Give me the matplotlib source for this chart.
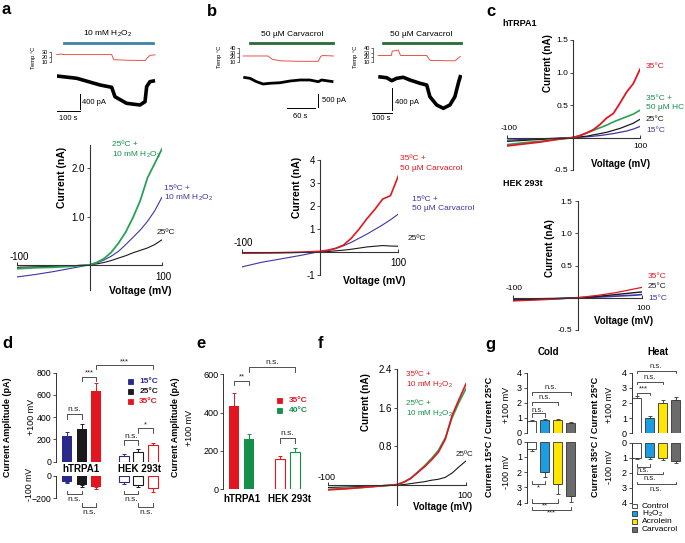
import matplotlib
matplotlib.use("Agg")
import matplotlib.pyplot as plt
from matplotlib.lines import Line2D
from matplotlib.patches import Rectangle

plt.rcParams["font.family"] = ["Liberation Sans", "DejaVu Sans"]
plt.rcParams["mathtext.fontset"] = "custom"
plt.rcParams["mathtext.rm"] = "Liberation Sans"
plt.rcParams["mathtext.it"] = "Liberation Sans:italic"
plt.rcParams["mathtext.bf"] = "Liberation Sans:bold"
plt.rcParams["axes.linewidth"] = 0.7

# ── Data ──────────────────────────────────────────────────────────────────────
# a: time course (s, pA relative to start) and bath temperature (°C)
a_t = [0, 86, 186, 236, 250, 300, 357, 379, 386, 400, 422]
a_i = [0, -61, -240, -302, -553, -729, -774, -686, -285, -152, -125]
a_temp_t = [0, 20, 25, 236, 245, 300, 380, 386, 400, 422]
a_temp = [24.5, 25.5, 24.5, 24.5, 15, 14, 13.5, 17, 23, 24]

# b left: 60 s recording
bl_t = [0, 14, 28, 42, 56, 78, 99, 120, 141, 159, 166, 191]
bl_i = [0, -37, -165, -251, -225, -203, -139, -101, -101, -165, -101, -165]
bl_temp_t = [0, 52, 62, 80, 120, 159, 164, 168, 191]
bl_temp = [23, 23, 16, 13, 12, 12, 22, 24, 23]

# b right
br_t = [0, 42, 67, 92, 125, 158, 208, 242, 258, 292, 325, 358, 383, 400, 412]
br_i = [0, -19, -74, -30, -11, -61, -122, -154, -370, -524, -585, -524, -370, -122, 31]
br_temp_t = [0, 65, 70, 100, 111, 242, 258, 383, 410]
br_temp = [24, 24, 33, 35, 24, 24, 14, 13, 22]

# I-V curves (mV, nA)
volt = [-100, -75, -50, -25, 0, 10, 20, 30, 40, 50, 60, 70, 80, 90, 100]

a_25_h2o2 = [-0.08, -0.06, -0.05, -0.03, 0, 0.05, 0.13, 0.26, 0.45, 0.68, 0.98, 1.33, 1.8, 2.1, 2.4]
a_15_h2o2 = [-0.25, -0.2, -0.14, -0.07, 0, 0.04, 0.1, 0.18, 0.28, 0.42, 0.57, 0.72, 0.9, 1.12, 1.4]
a_25 = [-0.05, -0.04, -0.03, -0.02, 0, 0.02, 0.05, 0.09, 0.14, 0.19, 0.25, 0.3, 0.35, 0.42, 0.52]

b_35_carv = [-0.05, -0.04, -0.03, -0.01, 0.03, 0.08, 0.16, 0.3, 0.6, 1.0, 1.45, 1.85, 2.3, 2.45, 3.3]
b_15_carv = [-0.65, -0.45, -0.3, -0.15, 0.02, 0.06, 0.15, 0.27, 0.42, 0.6, 0.78, 0.98, 1.18, 1.4, 1.65]
b_25 = [-0.05, -0.04, -0.03, -0.02, 0, 0.02, 0.05, 0.08, 0.12, 0.17, 0.22, 0.25, 0.28, 0.26, 0.25]

c_trpa1_35 = [-0.13, -0.1, -0.07, -0.03, 0, 0.03, 0.07, 0.12, 0.2, 0.3, 0.37, 0.53, 0.7, 0.83, 1.05]
c_trpa1_35hc = [-0.11, -0.08, -0.06, -0.03, 0, 0.03, 0.07, 0.11, 0.15, 0.19, 0.24, 0.28, 0.32, 0.36, 0.42]
c_trpa1_25 = [-0.06, -0.045, -0.03, -0.015, 0, 0.01, 0.02, 0.04, 0.06, 0.08, 0.11, 0.14, 0.18, 0.22, 0.28]
c_trpa1_15 = [-0.04, -0.03, -0.02, -0.01, 0, 0.005, 0.01, 0.02, 0.03, 0.045, 0.06, 0.08, 0.1, 0.13, 0.17]

c_hek_35 = [-0.05, -0.04, -0.03, -0.015, 0, 0.01, 0.025, 0.035, 0.05, 0.065, 0.08, 0.1, 0.12, 0.14, 0.16]
c_hek_25 = [-0.04, -0.03, -0.02, -0.01, 0, 0.005, 0.01, 0.02, 0.03, 0.04, 0.05, 0.06, 0.07, 0.08, 0.09]
c_hek_15 = [-0.03, -0.02, -0.015, -0.01, 0, 0.003, 0.007, 0.01, 0.015, 0.02, 0.025, 0.03, 0.035, 0.04, 0.05]

f_35_h2o2 = [-0.1, -0.08, -0.05, -0.02, 0.01, 0.06, 0.14, 0.26, 0.38, 0.52, 0.68, 0.95, 1.45, 1.78, 2.1]
f_25_h2o2 = [-0.09, -0.07, -0.05, -0.02, 0.01, 0.06, 0.14, 0.27, 0.4, 0.55, 0.72, 0.98, 1.4, 1.72, 2.0]
f_25 = [-0.05, -0.04, -0.03, -0.02, 0, 0.01, 0.03, 0.05, 0.07, 0.1, 0.12, 0.16, 0.25, 0.38, 0.5]

# d: current amplitude (pA) at +100 / -100 mV
d_temps = ["15°C", "25°C", "35°C"]
d_trpa1_pos = [230, 290, 635]
d_trpa1_pos_err = [35, 50, 70]
d_hek_pos = [55, 90, 148]
d_hek_pos_err = [13, 22, 20]
d_trpa1_neg = [-53, -82, -97]
d_trpa1_neg_err = [14, 15, 23]
d_hek_neg = [-53, -82, -112]
d_hek_neg_err = [20, 15, 30]

# e: current amplitude (pA) at +100 mV
e_temps = ["35°C", "40°C"]
e_trpa1 = [435, 260]
e_trpa1_err = [70, 27]
e_hek = [158, 193]
e_hek_err = [17, 25]

# g: current ratios
g_groups = ["Control", "H$_2$O$_2$", "Acrolein", "Carvacrol"]
g_cold_pos = [0.78, 0.85, 0.83, 0.65]
g_cold_pos_err = [0.1, 0.06, 0.06, 0.04]
g_cold_neg = [0.48, 2.0, 2.77, 3.54]
g_cold_neg_err = [0.11, 0.33, 0.68, 0.39]
g_heat_pos = [2.3, 1.02, 2.0, 2.22]
g_heat_pos_err = [0.13, 0.1, 0.18, 0.18]
g_heat_neg = [1.0, 0.98, 1.04, 1.22]
g_heat_neg_err = [0.09, 0.11, 0.11, 0.11]

# ── Style ────────────────────────────────────────────────────────────────────
RED = "#e3161f"
GREEN = "#2aa156"
GREEN_D = "#14904a"
BLUE = "#3d35a8"
BLUE_D = "#2b2a8a"
BLACK = "#1a1a1a"
TEMP_RED = "#e8534c"
G_COLORS = ["white", "#1b9de2", "#ffe500", "#6b6b6b"]
LINE = "#333333"

W, H = 685, 543
fig = plt.figure(figsize=(W / 100, H / 100), dpi=100)


def box(x0, y0, x1, y1):
    return fig.add_axes([x0 / W, 1 - y1 / H, (x1 - x0) / W, (y1 - y0) / H])


def T(x, y, s, **kw):
    kw.setdefault("fontsize", 6)
    kw.setdefault("va", "center")
    fig.text(x / W, 1 - y / H, s, **kw)


def hline_px(x0, x1, y, color, lw):
    fig.add_artist(Line2D([x0 / W, x1 / W], [1 - y / H, 1 - y / H],
                          color=color, lw=lw, transform=fig.transFigure))


def square(x, y, size, color, edge=None):
    fig.add_artist(Rectangle((x / W, 1 - (y + size / 2) / H), size / W, size / H,
                             facecolor=color, edgecolor=edge or color, lw=0.6,
                             transform=fig.transFigure))


def clean(ax, keep_left=True):
    for s in ("top", "right", "bottom"):
        ax.spines[s].set_visible(False)
    ax.spines["left"].set_visible(keep_left)
    ax.spines["left"].set_color(LINE)
    ax.set_xticks([])
    ax.patch.set_alpha(0)


def iv_axes(x0, x1, y0, y1, ylim, yticks, labels, fs=7):
    ax = box(x0, y0, x1, y1)
    ax.set_xlim(-100, 100)
    ax.set_ylim(*ylim)
    for s in ("top", "right"):
        ax.spines[s].set_visible(False)
    for s in ("left", "bottom"):
        ax.spines[s].set_position(("data", 0))
        ax.spines[s].set_color(LINE)
        ax.spines[s].set_linewidth(0.8)
    ax.set_xticks([-100, 100])
    ax.set_xticklabels([])
    ax.tick_params(axis="x", direction="in", length=2.5, width=0.7, color=LINE)
    ax.set_yticks(yticks)
    ax.set_yticklabels(labels, fontsize=fs)
    ax.tick_params(axis="y", length=2, width=0.6, pad=1.5, color=LINE)
    ax.patch.set_alpha(0)
    return ax


def bracket(ax, x1, x2, y, yleg, label, ty, fs=5.5):
    ax.plot([x1, x1, x2, x2], [yleg, y, y, yleg], color=LINE, lw=0.6, clip_on=False)
    ax.text((x1 + x2) / 2, ty, label, ha="center", va="center", fontsize=fs,
            color="#222222", clip_on=False)


def trace_panel(cur_box, t_lim, i_lim, t, i, temp_box, temp_tlim, temp_lim, tt, temp,
                temp_ticks, lw):
    ax = box(*cur_box)
    ax.set_xlim(*t_lim)
    ax.set_ylim(*i_lim)
    clean(ax, keep_left=False)
    ax.set_yticks([])
    ax.plot(t, i, color="black", lw=lw, solid_capstyle="butt")
    axt = box(*temp_box)
    axt.set_xlim(*temp_tlim)
    axt.set_ylim(*temp_lim)
    clean(axt)
    axt.spines["left"].set_bounds(temp_ticks[0], temp_ticks[-1])
    axt.spines["left"].set_linewidth(0.5)
    axt.set_yticks(temp_ticks)
    axt.tick_params(axis="y", length=1.5, width=0.5, pad=0.8, labelsize=4.0, color=LINE)
    axt.plot(tt, temp, color=TEMP_RED, lw=0.7)
    return ax


# ── Panel a: trace ───────────────────────────────────────────────────────────
T(2, 10, "a", fontsize=12, fontweight="bold")
T(108, 34, "10 mM H$_2$O$_2$", ha="center", fontsize=6)
hline_px(64, 153, 43.3, "#3c84a3", 2.0)
ax = trace_panel((56.7, 70, 155.5, 112), (0, 424), (-961, 160), a_t, a_i,
                 (51, 48, 155.5, 66), (-24.5, 424), (3.3, 36.7), a_temp_t, a_temp,
                 [10, 20, 30], 2.6)
ax.plot([100, 100], [-490, -890], color="black", lw=0.7, clip_on=False)
ax.plot([0, 100], [-935, -935], color="black", lw=0.7, clip_on=False)
T(82, 103, "400 pA", fontsize=5.5)
T(68, 118, "100 s", fontsize=5.5, ha="center")
T(33, 58, "Temp °C", fontsize=4.2, rotation=90, ha="center")

# ── Panel a: I-V ─────────────────────────────────────────────────────────────
ax = iv_axes(17, 162, 145, 290, (-0.52, 2.48), [1.0, 2.0], ["1.0", "2.0"])
ax.plot(volt, a_25, color=BLACK, lw=0.8)
ax.plot(volt, a_15_h2o2, color=BLUE, lw=0.8)
ax.plot(volt, a_25_h2o2, color=GREEN, lw=1.3)
T(62, 177, "Current (nA)", fontsize=7.5, fontweight="bold", rotation=90, ha="center")
T(140, 291, "Voltage (mV)", fontsize=7.5, fontweight="bold", ha="center")
T(163, 277, "100", fontsize=7, ha="center")
T(19, 257, "-100", fontsize=7, ha="center")
T(112, 145, "25ºC +", fontsize=6, color=GREEN_D)
T(112, 155, "10 mM H$_2$O$_2$", fontsize=6, color=GREEN_D)
T(164, 188, "15ºC +", fontsize=6, color=BLUE)
T(164, 198, "10 mM H$_2$O$_2$", fontsize=6, color=BLUE)
T(157, 232, "25ºC", fontsize=6, color=BLACK)

# ── Panel b: traces ──────────────────────────────────────────────────────────
T(207, 12, "b", fontsize=12, fontweight="bold")
T(292, 35, "50 µM Carvacrol", ha="center", fontsize=6)
hline_px(250, 333.3, 43.3, "#2a6a35", 2.0)
ax = trace_panel((243.3, 72, 336, 112), (0, 196.5), (-1301, 199), bl_t, bl_i,
                 (239, 45, 336, 65), (-9.1, 196.5), (4.5, 45.5), bl_temp_t, bl_temp,
                 [10, 20, 30, 40], 2.0)
ax.plot([157.7, 157.7], [-626, -1125], color="black", lw=0.7, clip_on=False)
ax.plot([92, 152], [-1163, -1163], color="black", lw=0.7, clip_on=False)
T(321.5, 100, "500 pA", fontsize=5.5)
T(300, 117, "60 s", fontsize=5.5, ha="center")
T(220, 57, "Temp °C", fontsize=4.2, rotation=90, ha="center")

T(421, 35, "50 µM Carvacrol", ha="center", fontsize=6)
hline_px(382.7, 461, 43.3, "#2a6a35", 2.0)
ax = trace_panel((378.3, 70, 462, 115), (0, 418.5), (-709, 124), br_t, br_i,
                 (373.3, 45, 462, 65), (-25, 418.5), (4.5, 45.5), br_temp_t, br_temp,
                 [10, 20, 30, 40], 2.6)
ax.plot([67, 67], [-215, -616], color="black", lw=0.7, clip_on=False)
ax.plot([-33, 67], [-666, -666], color="black", lw=0.7, clip_on=False)
T(395, 102, "400 pA", fontsize=5.5)
T(381, 119, "100 s", fontsize=5.5, ha="center")
T(355, 57, "Temp °C", fontsize=4.2, rotation=90, ha="center")

# ── Panel b: I-V ─────────────────────────────────────────────────────────────
ax = iv_axes(241.7, 398.3, 160, 275, (-1, 4), [-1, 1, 2, 3, 4],
             ["-1", "1", "2", "3", "4"])
ax.plot(volt, b_25, color=BLACK, lw=0.8)
ax.plot(volt, b_15_carv, color=BLUE, lw=0.8)
ax.plot(volt, b_35_carv, color=RED, lw=1.2)
T(297, 187, "Current (nA)", fontsize=7.5, fontweight="bold", rotation=90, ha="center")
T(374, 281, "Voltage (mV)", fontsize=7.5, fontweight="bold", ha="center")
T(398, 263, "100", fontsize=7, ha="center")
T(243, 243, "-100", fontsize=7, ha="center")
T(400, 159, "35ºC +", fontsize=6, color=RED)
T(400, 168.5, "50 µM Carvacrol", fontsize=6, color=RED)
T(412, 199, "15ºC +", fontsize=6, color=BLUE)
T(412, 208.5, "50 µM Carvacrol", fontsize=6, color=BLUE)
T(408, 239, "25ºC", fontsize=6, color=BLACK)

# ── Panel c ──────────────────────────────────────────────────────────────────
T(486, 12, "c", fontsize=12, fontweight="bold")
T(502, 23, "hTRPA1", fontsize=6.5, fontweight="bold")
ax = iv_axes(506.7, 640, 40, 170, (-0.5, 1.5), [-0.5, 0.5, 1.0, 1.5],
             ["-0.5", "0.5", "1.0", "1.5"], fs=6)
ax.plot(volt, c_trpa1_15, color=BLUE, lw=0.9)
ax.plot(volt, c_trpa1_25, color=BLACK, lw=0.9)
ax.plot(volt, c_trpa1_35hc, color=GREEN, lw=1.2)
ax.plot(volt, c_trpa1_35, color=RED, lw=1.3)
T(548, 63, "Current (nA)", fontsize=7, fontweight="bold", rotation=90, ha="center")
T(621, 164, "Voltage (mV)", fontsize=7, fontweight="bold", ha="center")
T(640, 147, "100", fontsize=6, ha="center")
T(509, 128, "-100", fontsize=6, ha="center")
T(646, 67, "35°C", fontsize=6, color=RED)
T(646, 98.5, "35°C +", fontsize=6, color=GREEN_D)
T(646, 108, "50 µM HC", fontsize=6, color=GREEN_D)
T(646, 119.5, "25°C", fontsize=6, color=BLACK)
T(646, 131, "15°C", fontsize=6, color=BLUE)

T(503, 183, "HEK 293t", fontsize=6.5, fontweight="bold")
ax = iv_axes(513.3, 641.7, 201, 330, (-0.5, 1.5), [-0.5, 0.5, 1.0, 1.5],
             ["-0.5", "0.5", "1.0", "1.5"], fs=6)
ax.plot(volt, c_hek_15, color=BLUE, lw=1.2)
ax.plot(volt, c_hek_25, color=BLACK, lw=1.0)
ax.plot(volt, c_hek_35, color=RED, lw=0.9)
T(550, 248, "Current (nA)", fontsize=7, fontweight="bold", rotation=90, ha="center")
T(624, 321, "Voltage (mV)", fontsize=7, fontweight="bold", ha="center")
T(643, 308, "100", fontsize=6, ha="center")
T(514, 289, "-100", fontsize=6, ha="center")
T(648, 276, "35°C", fontsize=6, color=RED)
T(648, 287, "25°C", fontsize=6, color=BLACK)
T(648, 298.5, "15°C", fontsize=6, color=BLUE)

# ── Panel d ──────────────────────────────────────────────────────────────────
T(2, 344, "d", fontsize=12, fontweight="bold")
d_pos_x = [1, 2, 3]
h_pos_x = [4.85, 5.85, 6.85]
d_cols = [BLUE_D, BLACK, RED]
BW = 0.68

axu = box(56, 372.7, 166, 461.7)
axu.set_xlim(0.25, 7.73)
axu.set_ylim(0, 800)
clean(axu)
axu.set_yticks([0, 200, 400, 600, 800])
axu.tick_params(axis="y", length=2, width=0.6, labelsize=6.3, pad=1.5, color=LINE)
axl = box(56, 475.7, 166, 498.3)
axl.set_xlim(0.25, 7.73)
axl.set_ylim(-200, 0)
clean(axl)
axl.set_yticks([-200, 0])
axl.tick_params(axis="y", length=2, width=0.6, labelsize=6.3, pad=1.0, color=LINE)
for k in range(3):
    c = d_cols[k]
    axu.bar(d_pos_x[k], d_trpa1_pos[k], BW, color=c, zorder=2)
    axu.errorbar(d_pos_x[k], d_trpa1_pos[k], yerr=[[0], [d_trpa1_pos_err[k]]],
                 color=c, lw=0.7, capsize=1.5, capthick=0.7, zorder=1)
    axu.bar(h_pos_x[k], d_hek_pos[k], BW, facecolor="white", edgecolor=c, lw=0.8, zorder=2)
    axu.errorbar(h_pos_x[k], d_hek_pos[k], yerr=[[0], [d_hek_pos_err[k]]],
                 color=c, lw=0.7, capsize=1.5, capthick=0.7, zorder=1)
    axl.bar(d_pos_x[k], d_trpa1_neg[k], BW, color=c, zorder=2)
    axl.errorbar(d_pos_x[k], d_trpa1_neg[k], yerr=[[d_trpa1_neg_err[k]], [0]],
                 color=c, lw=0.7, capsize=1.5, capthick=0.7, zorder=1)
    axl.bar(h_pos_x[k], d_hek_neg[k], BW, facecolor="white", edgecolor=c, lw=0.8, zorder=2)
    axl.errorbar(h_pos_x[k], d_hek_neg[k], yerr=[[d_hek_neg_err[k]], [0]],
                 color=c, lw=0.7, capsize=1.5, capthick=0.7, zorder=1)
bracket(axu, 1, 2, 427, 386, "n.s.", 465, fs=6)
bracket(axu, 2, 3, 765, 721, "***", 800)
bracket(axu, 3, 6.85, 869, 833, "***", 898)
bracket(axu, 4.85, 5.85, 198, 154, "n.s.", 227, fs=6)
bracket(axu, 5.85, 6.85, 304, 260, "*", 333)
for xs in ((1, 2), (4.85, 5.85)):
    bracket(axl, xs[0], xs[1], -165, -133, "n.s.", -209, fs=6)
for xs in ((2, 3), (5.85, 6.85)):
    bracket(axl, xs[0], xs[1], -280, -244, "n.s.", -327, fs=6)
for k, lab in enumerate(d_temps):
    square(127.7, 381.7 + 10 * k, 5, d_cols[k])
    T(139.3, 381.7 + 10 * k, lab, fontsize=6, fontweight="bold", color=d_cols[k])
T(81, 469.5, "hTRPA1", fontsize=7, fontweight="bold", ha="center")
T(140, 469.5, "HEK 293t", fontsize=7, fontweight="bold", ha="center")
T(8, 427, "Current Amplitude (pA)", fontsize=6.5, fontweight="bold", rotation=90, ha="center")
T(31, 417, "+100 mV", fontsize=6.5, rotation=90, ha="center")
T(29, 484, "-100 mV", fontsize=6.3, rotation=90, ha="center")

# ── Panel e ──────────────────────────────────────────────────────────────────
T(196, 344, "e", fontsize=12, fontweight="bold")
e_x = [1, 2]
he_x = [4.05, 5.05]
e_cols = [RED, GREEN_D]
ax = box(223.3, 374.3, 308, 489.3)
ax.set_xlim(0.27, 5.92)
ax.set_ylim(0, 600)
clean(ax)
ax.set_yticks([0, 200, 400, 600])
ax.tick_params(axis="y", length=2, width=0.6, labelsize=6.5, pad=1.5, color=LINE)
for k in range(2):
    c = e_cols[k]
    ax.bar(e_x[k], e_trpa1[k], 0.67, color=c, zorder=2)
    ax.errorbar(e_x[k], e_trpa1[k], yerr=[[0], [e_trpa1_err[k]]], color=c, lw=0.7,
                capsize=1.5, capthick=0.7, zorder=1)
    ax.bar(he_x[k], e_hek[k], 0.67, facecolor="white", edgecolor=c, lw=0.8, zorder=2)
    ax.errorbar(he_x[k], e_hek[k], yerr=[[0], [e_hek_err[k]]], color=c, lw=0.7,
                capsize=1.5, capthick=0.7, zorder=1)
bracket(ax, 1, 2, 567, 543, "**", 585)
bracket(ax, 2, 5.05, 637, 613, "n.s.", 663, fs=6)
bracket(ax, 4.05, 5.05, 266, 243, "n.s.", 289, fs=6)
for k, lab in enumerate(e_temps):
    square(277.3, 400 + 10 * k, 5, e_cols[k])
    T(289, 400 + 10 * k, lab, fontsize=6, fontweight="bold", color=e_cols[k])
T(242, 498.5, "hTRPA1", fontsize=7, fontweight="bold", ha="center")
T(290, 498.5, "HEK 293t", fontsize=7, fontweight="bold", ha="center")
T(175, 427, "Current Amplitude (pA)", fontsize=6.5, fontweight="bold", rotation=90, ha="center")
T(190, 428, "+100 mV", fontsize=6.5, rotation=90, ha="center")

# ── Panel f ──────────────────────────────────────────────────────────────────
T(318, 344, "f", fontsize=12, fontweight="bold")
ax = iv_axes(328, 466, 369.3, 505.3, (-0.42, 2.4), [0.8, 1.6, 2.4], ["0.8", "1.6", "2.4"])
ax.plot(volt, f_25, color=BLACK, lw=0.8)
ax.plot(volt, f_25_h2o2, color=GREEN, lw=1.2)
ax.plot(volt, f_35_h2o2, color=RED, lw=1.2)
T(366, 402, "Current (nA)", fontsize=7, fontweight="bold", rotation=90, ha="center")
T(443, 507, "Voltage (mV)", fontsize=7, fontweight="bold", ha="center")
T(465, 495, "100", fontsize=6.5, ha="center")
T(327, 477, "-100", fontsize=6.5, ha="center")
T(406, 375, "35ºC +", fontsize=5.8, color=RED)
T(406, 385, "10 mM H$_2$O$_2$", fontsize=5.8, color=RED)
T(406, 403.5, "25ºC +", fontsize=5.8, color=GREEN_D)
T(406, 413.5, "10 mM H$_2$O$_2$", fontsize=5.8, color=GREEN_D)
T(456, 455, "25ºC", fontsize=5.8, color=BLACK)

# ── Panel g ──────────────────────────────────────────────────────────────────
T(485, 344, "g", fontsize=12, fontweight="bold")
g_x = [1, 2, 3, 4]


def ratio_pair(x0, pos, pos_err, neg, neg_err, y_up, y_lo):
    au = box(x0, y_up[0], x0 + 53.3, y_up[1])
    al = box(x0, y_lo[0], x0 + 53.3, y_lo[1])
    for a_, lim in ((au, (0, 4)), (al, (4, 0))):
        a_.set_xlim(0.63, 4.73)
        a_.set_ylim(*lim)
        clean(a_)
        a_.set_yticks([0, 1, 2, 3, 4])
        a_.tick_params(axis="y", length=2, width=0.6, labelsize=6.5, pad=1.5, color=LINE)
    for k in range(4):
        au.bar(g_x[k], pos[k], 0.72, facecolor=G_COLORS[k], edgecolor=LINE, lw=0.6, zorder=2)
        au.errorbar(g_x[k], pos[k], yerr=[[0], [pos_err[k]]], color=LINE, lw=0.6,
                    capsize=1.2, capthick=0.6, zorder=1)
        al.bar(g_x[k], neg[k], 0.72, facecolor=G_COLORS[k], edgecolor=LINE, lw=0.6, zorder=2)
        al.errorbar(g_x[k], neg[k], yerr=[[0], [neg_err[k]]], color=LINE, lw=0.6,
                    capsize=1.2, capthick=0.6, zorder=1)
    return au, al


au, al = ratio_pair(526.7, g_cold_pos, g_cold_pos_err, g_cold_neg, g_cold_neg_err,
                    (372.7, 432.7), (441.7, 502.7))
bracket(au, 1, 2, 1.29, 1.07, "n.s.", 1.5)
bracket(au, 1, 3, 2.07, 1.84, "n.s.", 2.33)
bracket(au, 1, 4, 2.73, 2.5, "n.s.", 3.0)
bracket(al, 1, 2, 2.77, 2.56, "*", 3.0)
bracket(al, 1, 3, 4.0, 3.78, "**", 4.2)
bracket(al, 1, 4, 4.48, 4.26, "***", 4.7)
T(548, 352, "Cold", fontsize=7, fontweight="bold", ha="center")
T(490, 437, "Current 15°C / Current 25°C", fontsize=6.6, fontweight="bold",
  rotation=90, ha="center")
T(506.5, 405, "+100 mV", fontsize=6.5, rotation=90, ha="center")
T(506.5, 472, "-100 mV", fontsize=6.5, rotation=90, ha="center")

au, al = ratio_pair(631.7, g_heat_pos, g_heat_pos_err, g_heat_neg, g_heat_neg_err,
                    (372.7, 433.3), (442.7, 502.7))
bracket(au, 1, 2, 2.68, 2.52, "***", 2.9)
bracket(au, 1, 3, 3.41, 3.25, "n.s.", 3.7)
bracket(au, 1, 4, 4.13, 3.96, "n.s.", 4.4)
bracket(al, 1, 2, 1.6, 1.44, "n.s.", 1.83)
bracket(al, 1, 3, 2.09, 1.93, "n.s.", 2.37)
bracket(al, 1, 4, 2.75, 2.6, "n.s.", 3.09)
T(658, 352, "Heat", fontsize=7, fontweight="bold", ha="center")
T(595, 437, "Current 35°C / Current 25°C", fontsize=6.6, fontweight="bold",
  rotation=90, ha="center")
T(610, 405, "+100 mV", fontsize=6.5, rotation=90, ha="center")
T(610, 467, "-100 mV", fontsize=6.5, rotation=90, ha="center")

for k, lab in enumerate(g_groups):
    yc = [506, 513.5, 521.3, 529.3][k]
    square(632.3, yc, 4.5, G_COLORS[k], edge=LINE)
    T(641.7, yc, lab, fontsize=6)

fig.savefig("out.png", dpi=100, facecolor="white")
